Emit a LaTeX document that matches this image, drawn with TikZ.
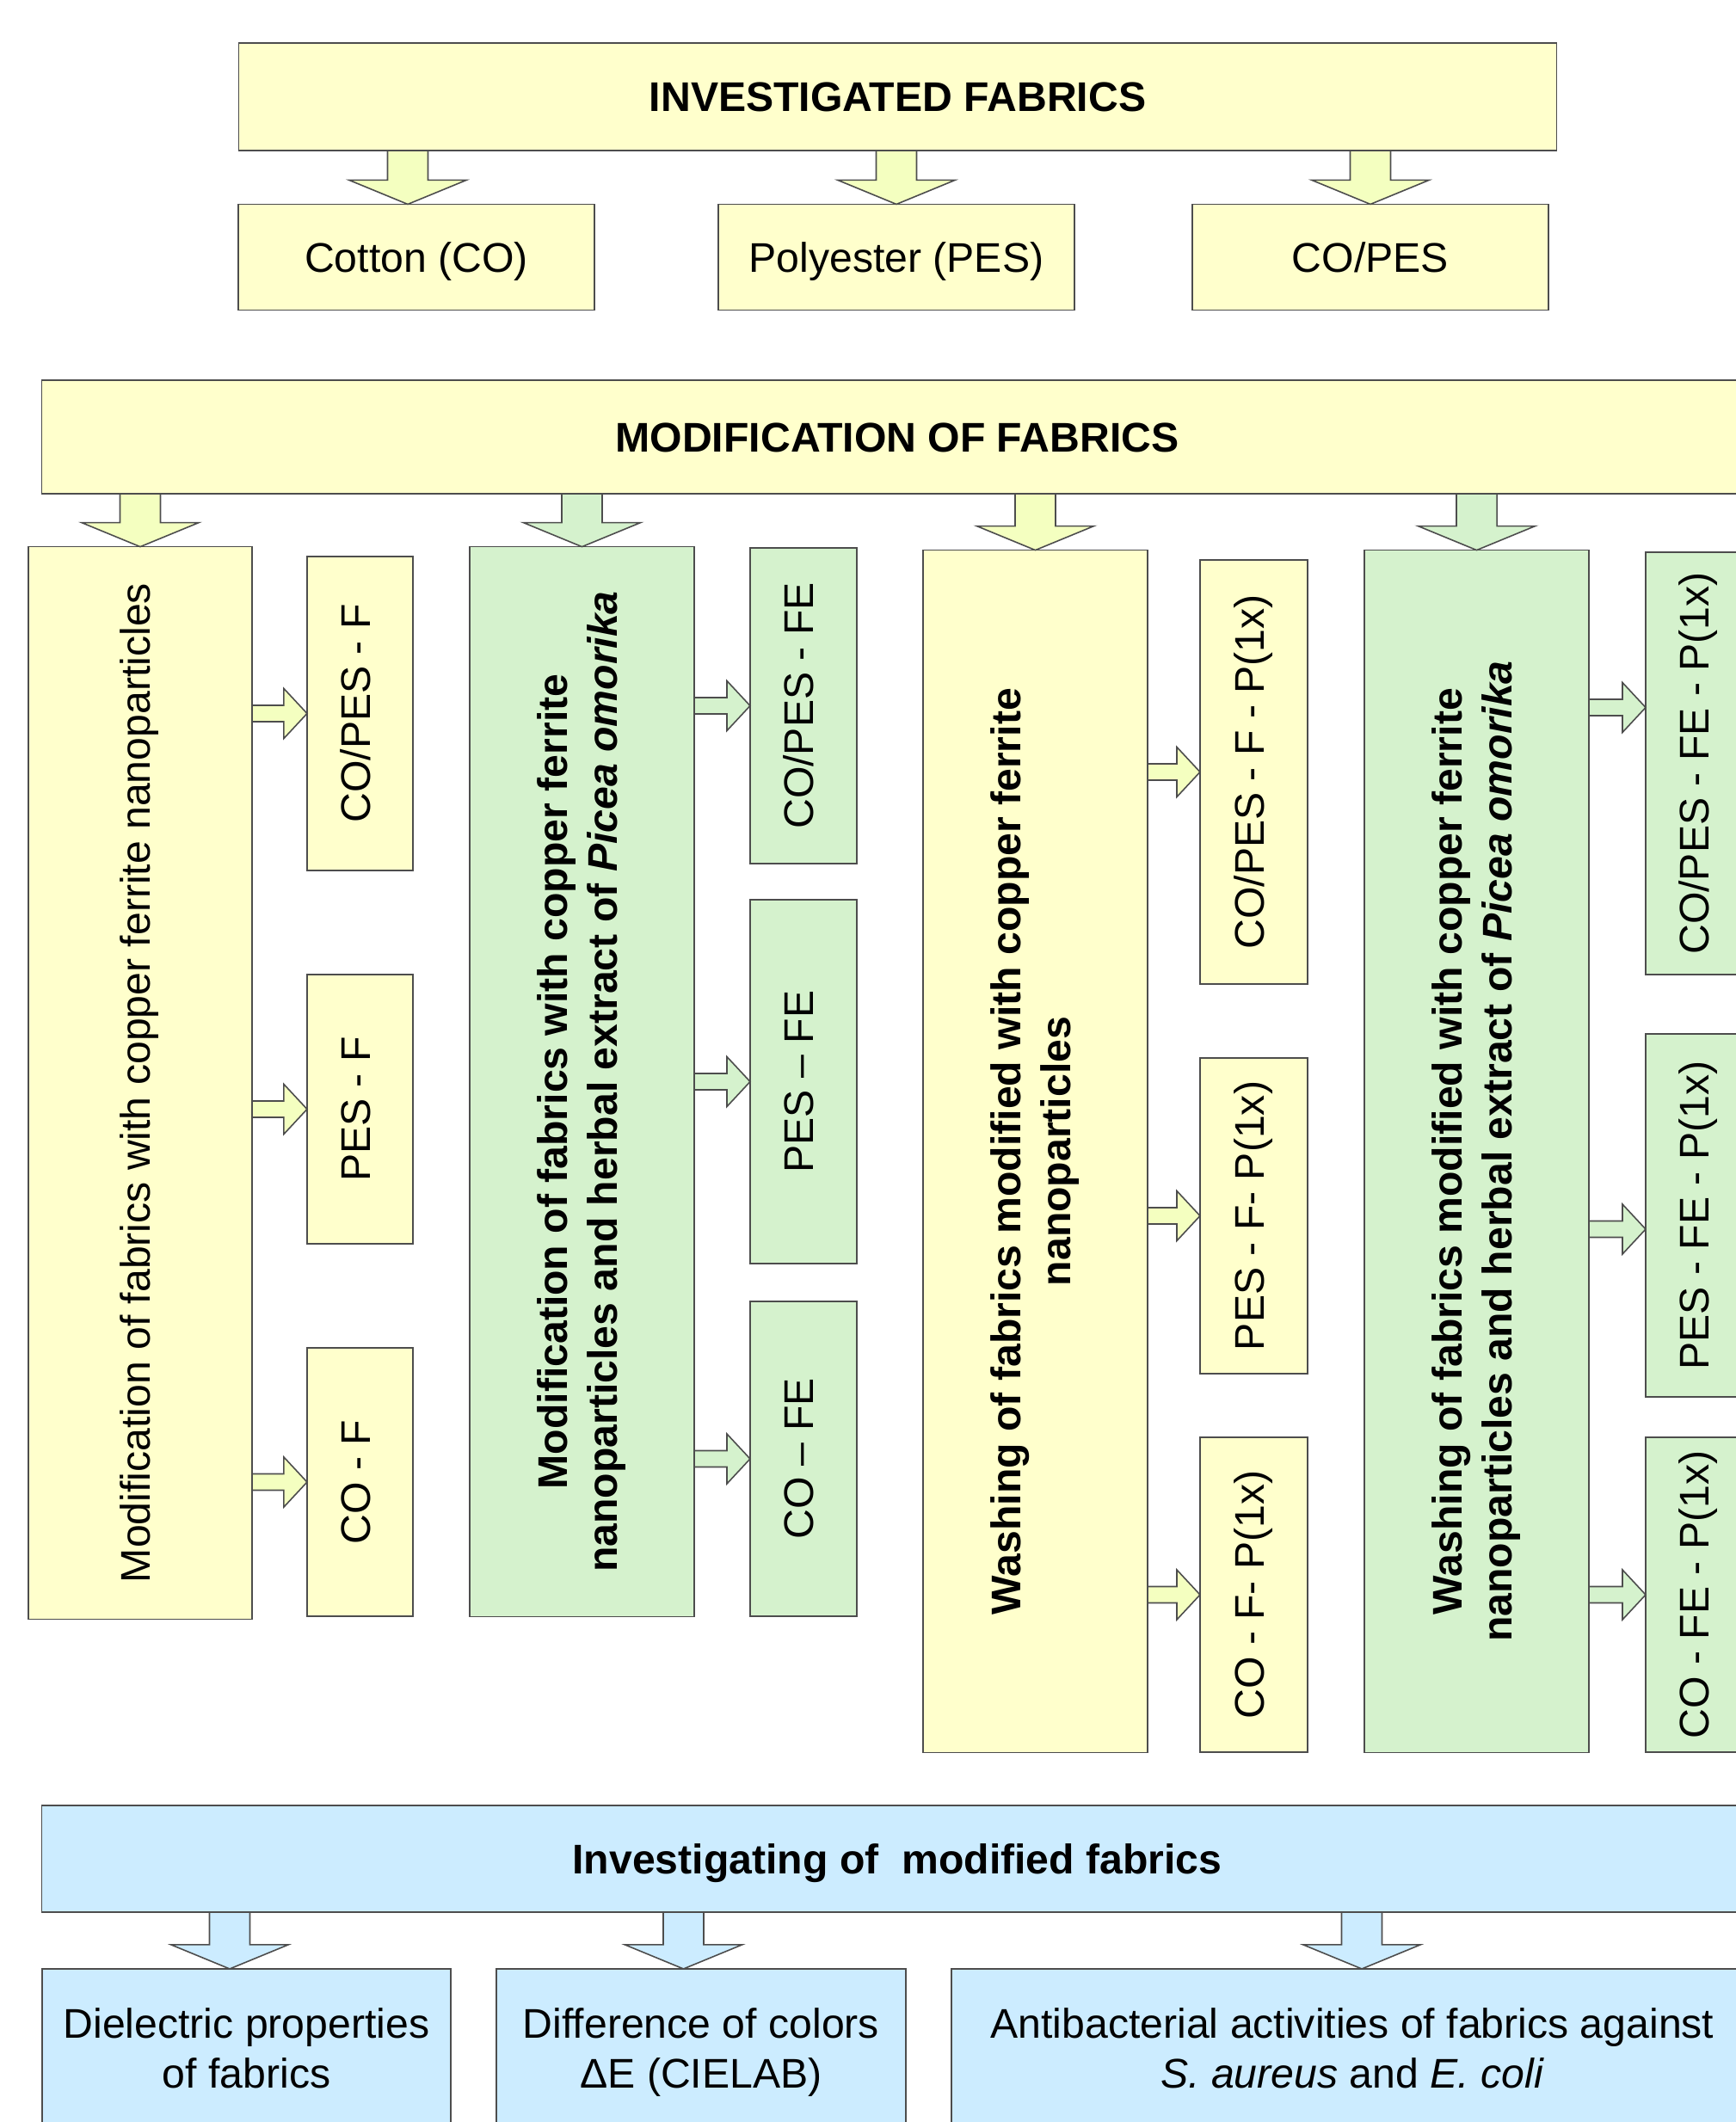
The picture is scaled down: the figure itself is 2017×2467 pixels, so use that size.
\documentclass[tikz,border=0pt]{standalone}
\usepackage{fontspec}
\setmainfont{Liberation Sans}
\usetikzlibrary{calc}
\definecolor{yfill}{HTML}{FFFFCC}
\definecolor{yarr}{HTML}{F4FFC0}
\definecolor{gfill}{HTML}{D5F2CD}
\definecolor{bfill}{HTML}{CCECFF}
\definecolor{edge}{HTML}{4D4D4D}
% vertical block arrow: #1 style, #2 start point (shaft top), #3 tip
\newcommand\vblock[3]{%
  \draw[#1] let \p1=(#2), \p2=(#3) in
    (\x2-0.235cm,\y1) -- (\x2+0.235cm,\y1) -- (\x2+0.235cm,\y2+0.28cm)
    -- (\x2+0.68cm,\y2+0.28cm) -- (\x2,\y2) -- (\x2-0.68cm,\y2+0.28cm)
    -- (\x2-0.235cm,\y2+0.28cm) -- cycle;}
% horizontal block arrow: #1 style, #2 start point (shaft left), #3 tip
\newcommand\hblock[3]{%
  \draw[#1] let \p1=(#2), \p2=(#3) in
    (\x1,\y2+0.095cm) -- (\x2-0.27cm,\y2+0.095cm) -- (\x2-0.27cm,\y2+0.29cm)
    -- (\x2,\y2) -- (\x2-0.27cm,\y2-0.29cm) -- (\x2-0.27cm,\y2-0.095cm)
    -- (\x1,\y2-0.095cm) -- cycle;}
\newcommand\vtxt[1]{\rotatebox{90}{\begin{tabular}{@{}c@{}}#1\end{tabular}}}
\begin{document}
\begin{tikzpicture}[x=0.01cm,y=-0.01cm,
  box/.style={draw=edge, line width=0.45pt, inner sep=0pt, outer sep=0pt,
    align=center, font=\fontsize{13.7pt}{16.5pt}\selectfont},
  boldbox/.style={box, font=\fontsize{13.7pt}{16.5pt}\selectfont\bfseries},
  oneline/.style={text height=9.8pt, text depth=0pt},
  ybox/.style={box, fill=yfill},
  gbox/.style={box, fill=gfill},
  bbox/.style={box, fill=bfill},
  arr/.style={draw=edge, line width=0.45pt, line join=miter},
  yarrow/.style={arr, fill=yarr},
  garrow/.style={arr, fill=gfill},
  barrow/.style={arr, fill=bfill}]
\useasboundingbox (0,0) rectangle (2017,2467);

% ---------- investigated fabrics ----------
\node[boldbox, oneline, fill=yfill, minimum width=15.31cm, minimum height=1.25cm] (T) at (1043.5,112.5) {INVESTIGATED FABRICS};
\node[ybox, oneline, minimum width=4.14cm, minimum height=1.23cm] (cot) at (484,299) {Cotton (CO)};
\node[ybox, oneline, minimum width=4.14cm, minimum height=1.23cm] (pes) at (1042,299) {Polyester (PES)};
\node[ybox, oneline, minimum width=4.14cm, minimum height=1.23cm] (cop) at (1593,299) {CO/PES};
\vblock{yarrow}{$(T.south -| cot.north)+(-10,0)$}{$(cot.north)+(-10,0)$}
\vblock{yarrow}{T.south -| pes.north}{pes.north}
\vblock{yarrow}{T.south -| cop.north}{cop.north}

% ---------- modification ----------
\node[boldbox, oneline, fill=yfill, minimum width=19.88cm, minimum height=1.32cm] (M) at (1043,508) {MODIFICATION OF FABRICS};

\node[ybox, minimum width=2.60cm, minimum height=12.46cm] (c1) at (163,1259)
  {\vtxt{Modification of fabrics with copper ferrite nanoparticles}};
\node[boldbox, fill=gfill, minimum width=2.61cm, minimum height=12.43cm] (c2) at (676.5,1257.5)
  {\vtxt{Modification of fabrics with copper ferrite\\nanoparticles and herbal extract of \textit{Picea omorika}}};
\node[boldbox, fill=yfill, minimum width=2.61cm, minimum height=13.97cm] (c3) at (1203.5,1338.5)
  {\vtxt{Washing of fabrics modified with copper ferrite\\nanoparticles}};
\node[boldbox, fill=gfill, minimum width=2.61cm, minimum height=13.97cm] (c4) at (1716.5,1338.5)
  {\vtxt{Washing of fabrics modified with copper ferrite\\nanoparticles and herbal extract of \textit{Picea omorika}}};

\vblock{yarrow}{M.south -| c1.north}{c1.north}
\vblock{garrow}{M.south -| c2.north}{c2.north}
\vblock{yarrow}{M.south -| c3.north}{c3.north}
\vblock{garrow}{M.south -| c4.north}{c4.north}

% column 1 results
\node[ybox, minimum width=1.23cm, minimum height=3.65cm] (s11) at (418.5,829.5) {\vtxt{CO/PES - F}};
\node[ybox, minimum width=1.23cm, minimum height=3.13cm] (s12) at (418.5,1289.5) {\vtxt{PES - F}};
\node[ybox, minimum width=1.23cm, minimum height=3.12cm] (s13) at (418.5,1723) {\vtxt{CO - F}};
% column 2 results
\node[gbox, minimum width=1.24cm, minimum height=3.67cm] (s21) at (934,820.5) {\vtxt{CO/PES - FE}};
\node[gbox, minimum width=1.24cm, minimum height=4.23cm] (s22) at (934,1257.5) {\vtxt{PES – FE}};
\node[gbox, minimum width=1.24cm, minimum height=3.66cm] (s23) at (934,1696) {\vtxt{CO – FE}};
% column 3 results
\node[ybox, minimum width=1.25cm, minimum height=4.93cm] (s31) at (1457.5,897.5) {\vtxt{CO/PES - F - P(1x)}};
\node[ybox, minimum width=1.25cm, minimum height=3.67cm] (s32) at (1457.5,1413.5) {\vtxt{PES - F- P(1x)}};
\node[ybox, minimum width=1.25cm, minimum height=3.66cm] (s33) at (1457.5,1854) {\vtxt{CO - F- P(1x)}};
% column 4 results
\node[gbox, minimum width=1.24cm, minimum height=4.91cm] (s41) at (1975,887.5) {\vtxt{CO/PES - FE - P(1x)}};
\node[gbox, minimum width=1.24cm, minimum height=4.22cm] (s42) at (1975,1413) {\vtxt{PES - FE - P(1x)}};
\node[gbox, minimum width=1.24cm, minimum height=3.66cm] (s43) at (1975,1854) {\vtxt{CO - FE - P(1x)}};

\hblock{yarrow}{c1.east |- s11.west}{s11.west}
\hblock{yarrow}{c1.east |- s12.west}{s12.west}
\hblock{yarrow}{c1.east |- s13.west}{s13.west}
\hblock{garrow}{c2.east |- s21.west}{s21.west}
\hblock{garrow}{c2.east |- s22.west}{s22.west}
\hblock{garrow}{c2.east |- s23.west}{s23.west}
\hblock{yarrow}{c3.east |- s31.west}{s31.west}
\hblock{yarrow}{c3.east |- s32.west}{s32.west}
\hblock{yarrow}{c3.east |- s33.west}{s33.west}
\hblock{garrow}{$(c4.east |- s41.west)+(0,-65)$}{$(s41.west)+(0,-65)$}
\hblock{garrow}{$(c4.east |- s42.west)+(0,16)$}{$(s42.west)+(0,16)$}
\hblock{garrow}{c4.east |- s43.west}{s43.west}

% ---------- investigating ----------
\node[boldbox, oneline, fill=bfill, minimum width=19.88cm, minimum height=1.24cm] (I) at (1043,2161) {Investigating of\ \ modified fabrics};
\node[bbox, minimum width=4.75cm, minimum height=1.95cm] (d1) at (286.5,2386.5) {\strut Dielectric properties\\\strut of fabrics};
\node[bbox, minimum width=4.76cm, minimum height=1.95cm] (d2) at (815,2386.5) {\strut Difference of colors\\\strut ΔE (CIELAB)};
\node[bbox, minimum width=9.32cm, minimum height=1.95cm] (d3) at (1572,2386.5) {\strut Antibacterial activities of fabrics against\\\strut\textit{S. aureus} and \textit{E. coli}};
\vblock{barrow}{$(I.south -| d1.north)+(-19.5,0)$}{$(d1.north)+(-19.5,0)$}
\vblock{barrow}{$(I.south -| d2.north)+(-20.5,0)$}{$(d2.north)+(-20.5,0)$}
\vblock{barrow}{$(I.south -| d3.north)+(11,0)$}{$(d3.north)+(11,0)$}
\end{tikzpicture}
\end{document}
